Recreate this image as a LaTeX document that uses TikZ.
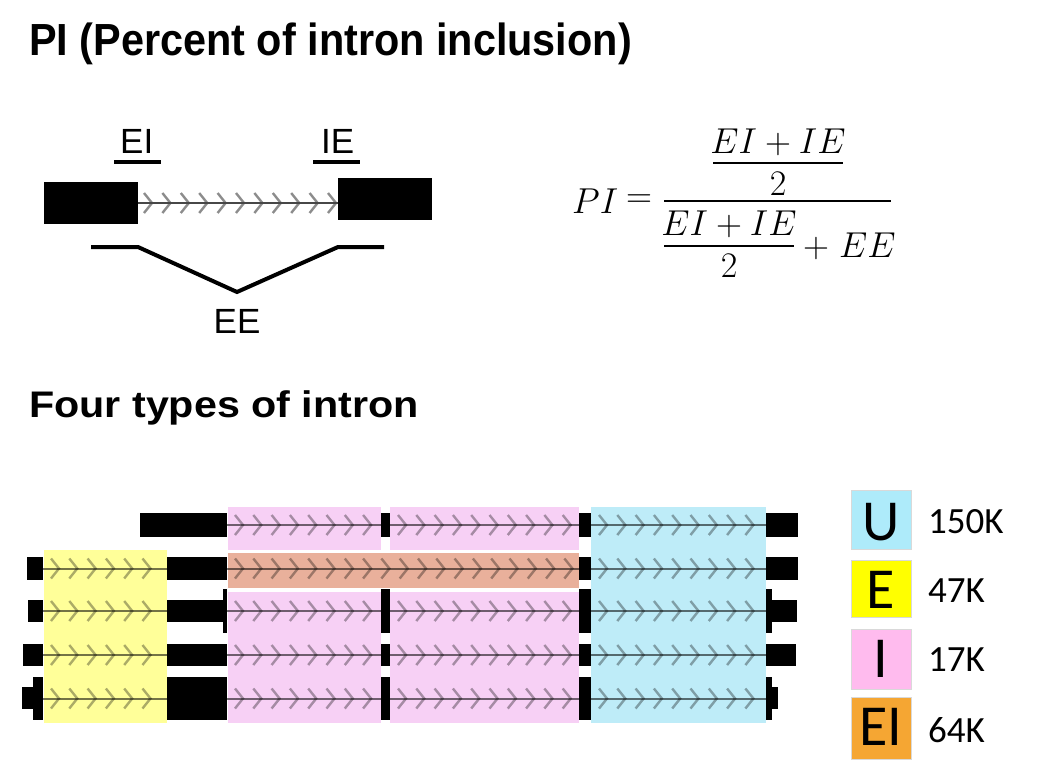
\RequirePackage{fix-cm}
\documentclass[tikz,border=0pt]{standalone}
\usepackage{amsmath}
\usepackage[no-math]{fontspec}
\setmainfont{Liberation Sans}
\newfontfamily\legfont{Carlito}
\usetikzlibrary{fit}
\definecolor{pinkbg}{HTML}{F7D0F5}
\definecolor{yellowbg}{HTML}{FFFF99}
\definecolor{bluebg}{HTML}{BEECF8}
\definecolor{salmonbg}{HTML}{E9B09B}
\definecolor{legU}{HTML}{AEEBFA}
\definecolor{legE}{HTML}{FFFF00}
\definecolor{legI}{HTML}{FFBBEE}
\definecolor{legEI}{HTML}{F5A633}
\tikzset{
  exonbox/.style={fill=black, draw=none, inner sep=0pt, outer sep=0pt, minimum size=0pt},
  topline/.style={draw=black!72, line width=2pt},
  topchev/.style={draw=black!45, line width=2.4pt},
  botline/.style={draw=black, draw opacity=0.55, line width=2pt},
  botchev/.style={draw=black, draw opacity=0.33, line width=2.4pt},
  rule/.style={line width=3.5pt, black},
  fbar/.style={line width=2pt, black},
  lbl/.style={inner sep=0pt, anchor=base west, font=\fontsize{35}{40}\selectfont},
  mth/.style={inner sep=0pt, anchor=base, font=\fontsize{36}{40}\selectfont},
  legbox/.style={draw=white!85!black, line width=0.5pt, inner sep=0pt},
  legletter/.style={inner sep=0pt, anchor=base, font=\legfont\fontsize{58}{60}\selectfont},
  legnum/.style={inner sep=0pt, anchor=base west, font=\legfont\fontsize{37}{40}\selectfont},
}
\newcommand\exn[5]{\node[exonbox, fit={(#2,#3) (#4,#5)}] (#1) {};}
% #1 line style, #2 chevron style, #3 from node, #4 to node, #5 x-start, #6 x-end, #7 y, #8 first offset, #9 step
\newcommand\intr[9]{%
  \pgfmathsetmacro\chA{#5+#8}%
  \pgfmathsetmacro\chB{#5+#8+#9}%
  \pgfmathsetmacro\chC{#6-1}%
  \foreach \cx in {\chA,\chB,...,\chC} {\draw[#2] (\cx-8,#7-10) -- (\cx,#7) -- (\cx-8,#7+10);}%
  \draw[#1] (#3.east) -- (#3.east -| #4.west);}
\newcommand\bint[5]{\intr{botline}{botchev}{#1}{#2}{#3}{#4}{#5}{16}{18.3}}
\begin{document}
\begin{tikzpicture}[x=1pt,y=-1pt]
\useasboundingbox (0,0) rectangle (1048,776);

% ---------- titles ----------
\node[inner sep=0pt, anchor=base west] (t1) at (29,56)
  {\scalebox{0.92}[1]{\fontsize{45}{50}\selectfont\bfseries PI (Percent of intron inclusion)}};
\node[inner sep=0pt, anchor=base west] (t2) at (29,417)
  {\scalebox{1.115}[1]{\fontsize{37}{42}\selectfont\bfseries Four types of intron}};

% ---------- top diagram ----------
\exn{L}{44}{182}{138}{224}
\exn{R}{338}{178}{432}{220}
\intr{topline}{topchev}{L}{R}{138}{338}{203}{14}{18.4}
\node[lbl] (ei) at (120,153) {EI};
\node[lbl] (ie) at (321,153) {IE};
\draw[rule] (114,162) -- (161,162);
\draw[rule] (313,162) -- (360,162);
\coordinate (ee1) at (91,247);
\coordinate (ee2) at (138,247);
\coordinate (ee3) at (237,292);
\coordinate (ee4) at (338,247);
\coordinate (ee5) at (384,247);
\draw[line width=4pt] (ee1) -- (ee2) -- (ee3) -- (ee4) -- (ee5);
\node[lbl, anchor=base] (ee) at (237,333) {EE};

% ---------- formula ----------
\node[mth, anchor=base west] (fpi) at (572,213) {$PI$};
\node[mth] (feq) at (639,207) {$=$};
\node[mth] (fn1) at (778,153) {$EI+IE$};
\draw[fbar] (713,163) -- (843,163);
\node[mth] (fn2) at (778,195) {$2$};
\draw[fbar] (664,201) -- (891,201);
\node[mth] (fd1) at (729,235) {$EI+IE$};
\draw[fbar] (664,246) -- (794,246);
\node[mth] (fd2) at (729,277) {$2$};
\node[mth, anchor=base west] (fd3) at (803,257) {$\mathord{+}\mskip5mu EE$};

% ---------- backgrounds ----------
\fill[pinkbg] (228,507) rectangle (381,550);
\fill[pinkbg] (390,507) rectangle (579,550);
\fill[salmonbg] (228,553) rectangle (579,588);
\fill[pinkbg] (228,592) rectangle (381,723);
\fill[pinkbg] (390,592) rectangle (579,723);
\fill[yellowbg] (44,550) rectangle (167,723);
\fill[bluebg] (591,507) rectangle (766,723);

% ---------- row 1 ----------
\exn{a1}{140}{513}{227}{537}
\exn{c1}{381}{513}{390}{537}
\exn{d1}{579}{513}{591}{537}
\exn{e1}{766}{513}{798}{537}
\bint{a1}{c1}{227}{381}{525}
\bint{c1}{d1}{390}{579}{525}
\bint{d1}{e1}{591}{766}{525}

% ---------- row 2 ----------
\exn{a2}{27}{557}{43}{580}
\exn{b2}{167}{557}{227}{580}
\exn{d2}{579}{557}{591}{580}
\exn{e2}{766}{557}{798}{580}
\bint{a2}{b2}{43}{167}{568.5}
\bint{b2}{d2}{227}{579}{568.5}
\bint{d2}{e2}{591}{766}{568.5}

% ---------- row 3 ----------
\exn{a3}{28}{600}{43}{622}
\exn{b3x}{167}{600}{224}{622}
\exn{b3}{223}{589}{227}{633}
\exn{c3}{381}{589}{390}{633}
\exn{d3}{579}{589}{591}{633}
\exn{e3}{766}{589}{772}{633}
\exn{e3x}{771}{600}{797}{622}
\bint{a3}{b3x}{43}{167}{611}
\bint{b3}{c3}{227}{381}{611}
\bint{c3}{d3}{390}{579}{611}
\bint{d3}{e3}{591}{766}{611}

% ---------- row 4 ----------
\exn{a4}{23}{644}{43}{666}
\exn{b4}{167}{644}{227}{666}
\exn{c4}{381}{644}{390}{666}
\exn{d4}{579}{644}{591}{666}
\exn{e4}{766}{644}{796}{666}
\bint{a4}{b4}{43}{167}{655}
\bint{b4}{c4}{227}{381}{655}
\bint{c4}{d4}{390}{579}{655}
\bint{d4}{e4}{591}{766}{655}

% ---------- row 5 ----------
\exn{a5x}{22}{687}{34}{709}
\exn{a5}{33}{677}{43}{720}
\exn{b5}{167}{677}{227}{720}
\exn{c5}{381}{677}{390}{720}
\exn{d5}{579}{677}{591}{720}
\exn{e5}{766}{677}{772}{720}
\exn{e5x}{771}{687}{778}{709}
\bint{a5}{b5}{43}{167}{698.5}
\bint{b5}{c5}{227}{381}{698.5}
\bint{c5}{d5}{390}{579}{698.5}
\bint{d5}{e5}{591}{766}{698.5}

% ---------- legend ----------
\node[legbox, fill=legU, fit={(851,490) (911,549)}] (bU) {};
\node[legbox, fill=legE, fit={(851,560) (911,617)}] (bE) {};
\node[legbox, fill=legI, fit={(851,629) (911,689)}] (bI) {};
\node[legbox, fill=legEI, fit={(851,697) (911,759)}] (bEI) {};
\node[legletter] (lU) at (881,540) {U};
\node[legletter] (lE) at (881,608) {E};
\node[legletter] (lI) at (881,677) {I};
\node[legletter] (lEI) at (881,745) {EI};
\node[legnum] (nU) at (928,533) {150K};
\node[legnum] (nE) at (928,602) {47K};
\node[legnum] (nI) at (928,671) {17K};
\node[legnum] (nEI) at (928,742) {64K};
\end{tikzpicture}
\end{document}
